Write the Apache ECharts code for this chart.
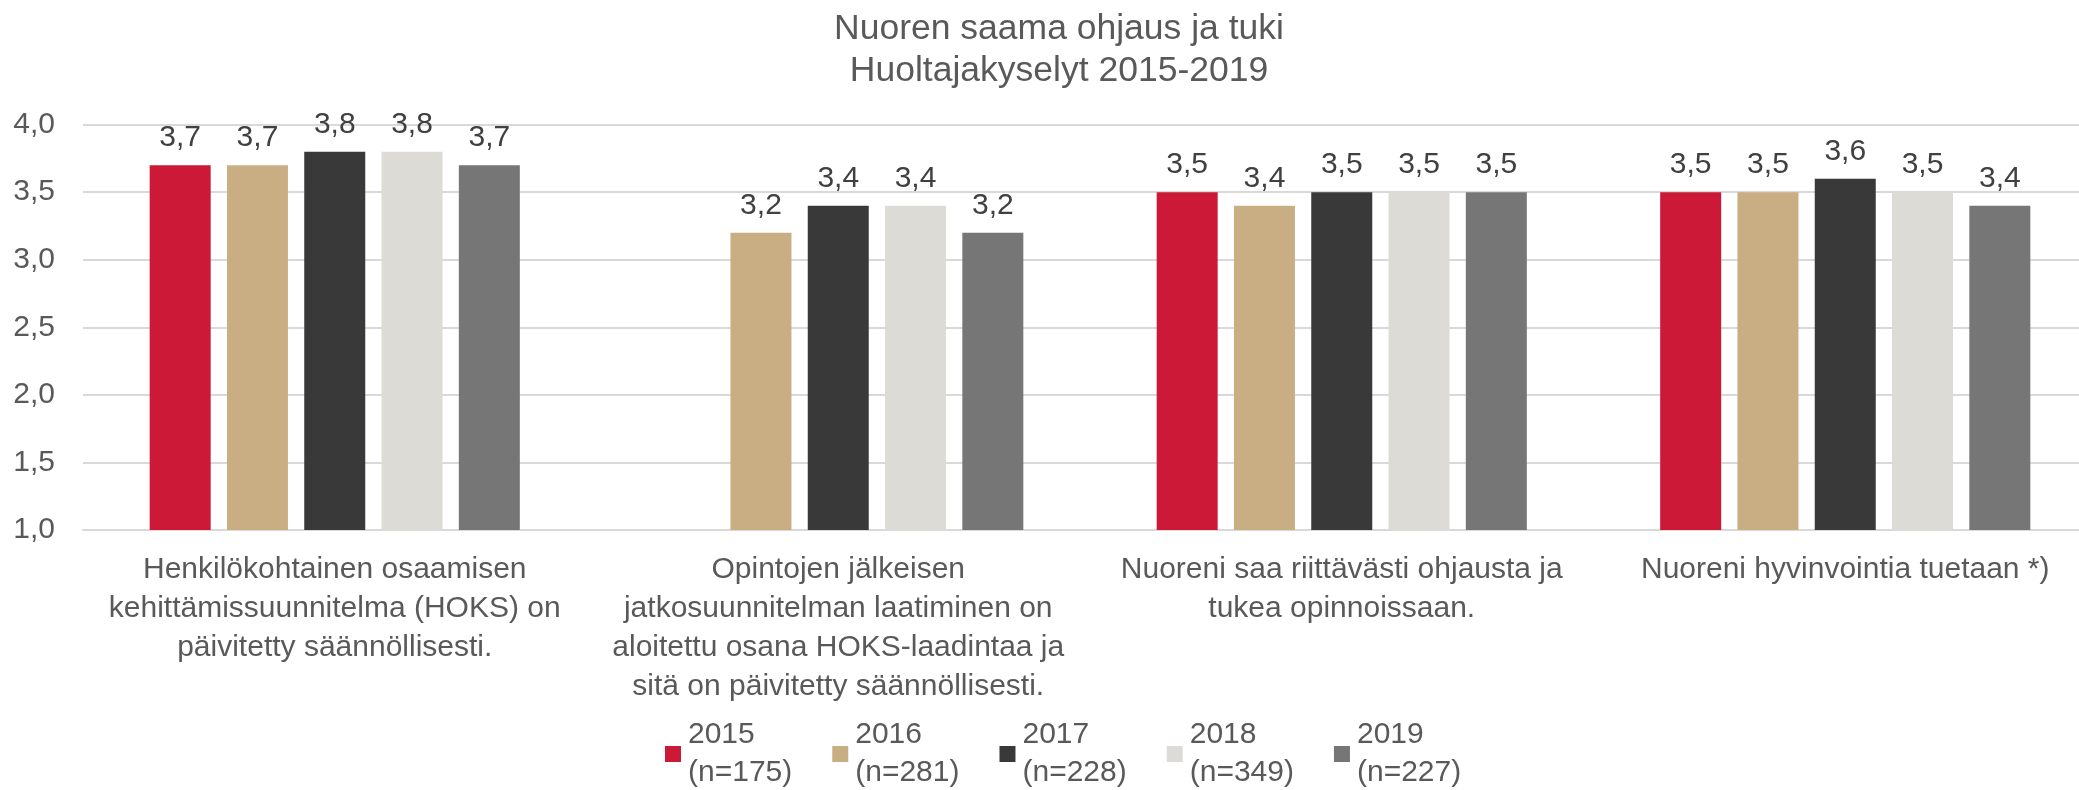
<!DOCTYPE html>
<html>
<head>
<meta charset="utf-8">
<script src="https://cdn.jsdelivr.net/npm/echarts@6/dist/echarts.min.js"></script>
<style>
  html, body { margin: 0; padding: 0; background: #fff; }
  #chart { width: 2079px; height: 790px; }
</style>
</head>
<body>
<div id="chart"></div>
<script>
// categories (line breaks as in the original)
const categories = [
  'Henkilökohtainen osaamisen\nkehittämissuunnitelma (HOKS) on\npäivitetty säännöllisesti.',
  'Opintojen jälkeisen\njatkosuunnitelman laatiminen on\naloitettu osana HOKS-laadintaa ja\nsitä on päivitetty säännöllisesti.',
  'Nuoreni saa riittävästi ohjausta ja\ntukea opinnoissaan.',
  'Nuoreni hyvinvointia tuetaan *)'
];
const years = ['2015', '2016', '2017', '2018', '2019'];
const sampleSizes = ['(n=175)', '(n=281)', '(n=228)', '(n=349)', '(n=227)'];
const v2015 = [3.7, null, 3.5, 3.5];
const v2016 = [3.7, 3.2, 3.4, 3.5];
const v2017 = [3.8, 3.4, 3.5, 3.6];
const v2018 = [3.8, 3.4, 3.5, 3.5];
const v2019 = [3.7, 3.2, 3.5, 3.4];
const yTicks = { min: 1, max: 4, step: 0.5 };

const seriesValues = [v2015, v2016, v2017, v2018, v2019];
const colors = ['#CB1937', '#C9AE84', '#393939', '#DCDBD6', '#767676'];
const font = '"Liberation Sans", Arial, sans-serif';
const fmt = v => Number(v).toFixed(1).replace('.', ',');

const chart = echarts.init(document.getElementById('chart'));

const option = {
  animation: false,
  backgroundColor: '#ffffff',
  title: {
    text: 'Nuoren saama ohjaus ja tuki\nHuoltajakyselyt 2015-2019',
    left: 1054,
    textAlign: 'center',
    top: 3,
    textStyle: {
      fontFamily: font,
      fontSize: 35.5,
      fontWeight: 'normal',
      color: '#595959',
      lineHeight: 42
    }
  },
  legend: {
    left: 660,
    top: 692,
    itemWidth: 16,
    itemHeight: 16,
    itemGap: 40,
    icon: 'rect',
    data: years,
    formatter: name => name + '\n' + sampleSizes[years.indexOf(name)],
    textStyle: {
      fontFamily: font,
      fontSize: 30,
      color: '#595959',
      lineHeight: 38,
      padding: [38, 0, 0, 2]
    }
  },
  grid: {
    left: 83,
    width: 2014,
    top: 124.6,
    bottom: 260,
    containLabel: false,
    outerBoundsMode: 'none'
  },
  xAxis: {
    type: 'category',
    data: categories,
    axisLine: { lineStyle: { color: '#D9D9D9', width: 2 } },
    axisTick: { show: false },
    axisLabel: {
      interval: 0,
      margin: 20,
      fontFamily: font,
      fontSize: 30,
      lineHeight: 39,
      color: '#595959',
      align: 'center'
    }
  },
  yAxis: {
    type: 'value',
    min: yTicks.min,
    max: yTicks.max,
    interval: yTicks.step,
    axisLine: { show: false },
    axisTick: { show: false },
    splitLine: { lineStyle: { color: '#D9D9D9', width: 2 } },
    axisLabel: {
      margin: 28,
      fontFamily: font,
      fontSize: 30,
      color: '#595959',
      formatter: fmt
    }
  },
  series: years.map((y, i) => ({
    name: y,
    type: 'bar',
    data: seriesValues[i],
    barWidth: 61,
    barGap: '26.7%',
    itemStyle: { color: colors[i] },
    label: {
      show: true,
      position: 'top',
      distance: 12,
      fontFamily: font,
      fontSize: 30,
      color: '#404040',
      formatter: p => fmt(p.value)
    }
  }))
};

chart.setOption(option);
</script>
</body>
</html>
